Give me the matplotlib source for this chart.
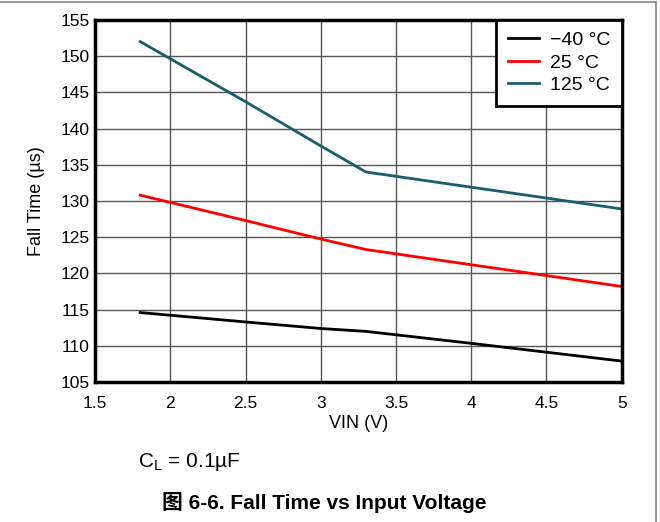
import matplotlib.pyplot as plt
from matplotlib.lines import Line2D

plt.rcParams['font.family'] = ['Liberation Sans', 'Noto Sans CJK SC', 'DejaVu Sans']

# values
vin = [1.8, 2.5, 3.0, 3.3, 4.0, 5.0]
fall_m40 = [114.6, 113.3, 112.4, 112.0, 110.35, 107.9]
fall_25 = [130.8, 127.3, 124.75, 123.3, 121.2, 118.2]
fall_125 = [152.0, 143.7, 137.6, 134.0, 131.9, 128.9]
labels = ['\u221240 \u00b0C', '25 \u00b0C', '125 \u00b0C']
colors = ['black', '#ff0000', '#1a5d6c']

xticks = [1.5, 2, 2.5, 3, 3.5, 4, 4.5, 5]
yticks = list(range(105, 156, 5))

fig = plt.figure(figsize=(6.6, 5.22), dpi=100)
ax = fig.add_axes([0.144, 0.268, 0.798, 0.694])

for ys, lab, c in zip([fall_m40, fall_25, fall_125], labels, colors):
    ax.plot(vin, ys, color=c, lw=2, label=lab, zorder=3)

ax.set_xlim(1.5, 5)
ax.set_ylim(105, 155)
ax.set_xticks(xticks)
ax.set_xticklabels([f'{t:g}' for t in xticks])
ax.set_yticks(yticks)
ax.tick_params(length=0, labelsize=12.5)
ax.tick_params(axis='x', pad=10)
ax.tick_params(axis='y', pad=4)
ax.grid(True, color='#555555', lw=1)
for s in ax.spines.values():
    s.set_linewidth(2.5)
    s.set_zorder(4)

ax.set_xlabel('VIN (V)', fontsize=13, labelpad=3)
ax.set_ylabel('Fall Time (\u00b5s)', fontsize=13, labelpad=11)

leg = ax.legend(loc='upper right', fontsize=14, frameon=True, fancybox=False,
                borderaxespad=0, handlelength=1.6, handletextpad=0.55,
                labelspacing=0.25, borderpad=0.6)
leg.get_frame().set_edgecolor('black')
leg.get_frame().set_linewidth(2)
leg.get_frame().set_alpha(1)

fig.text(0.209, 0.115, 'C$_\\mathregular{L}$ = 0.1\u00b5F', fontsize=15, va='center')
fig.text(0.491, 0.038, '\u56fe 6-6. Fall Time vs Input Voltage', fontsize=15,
         fontweight='bold', ha='center', va='center')

# page frame (top and right edges)
fig.add_artist(Line2D([0, 0.994], [0.996, 0.996], color='#888888', lw=1.2,
                      transform=fig.transFigure))
fig.add_artist(Line2D([0.994, 0.994], [0, 0.996], color='#888888', lw=1.2,
                      transform=fig.transFigure))

fig.savefig('out.png', dpi=100)
